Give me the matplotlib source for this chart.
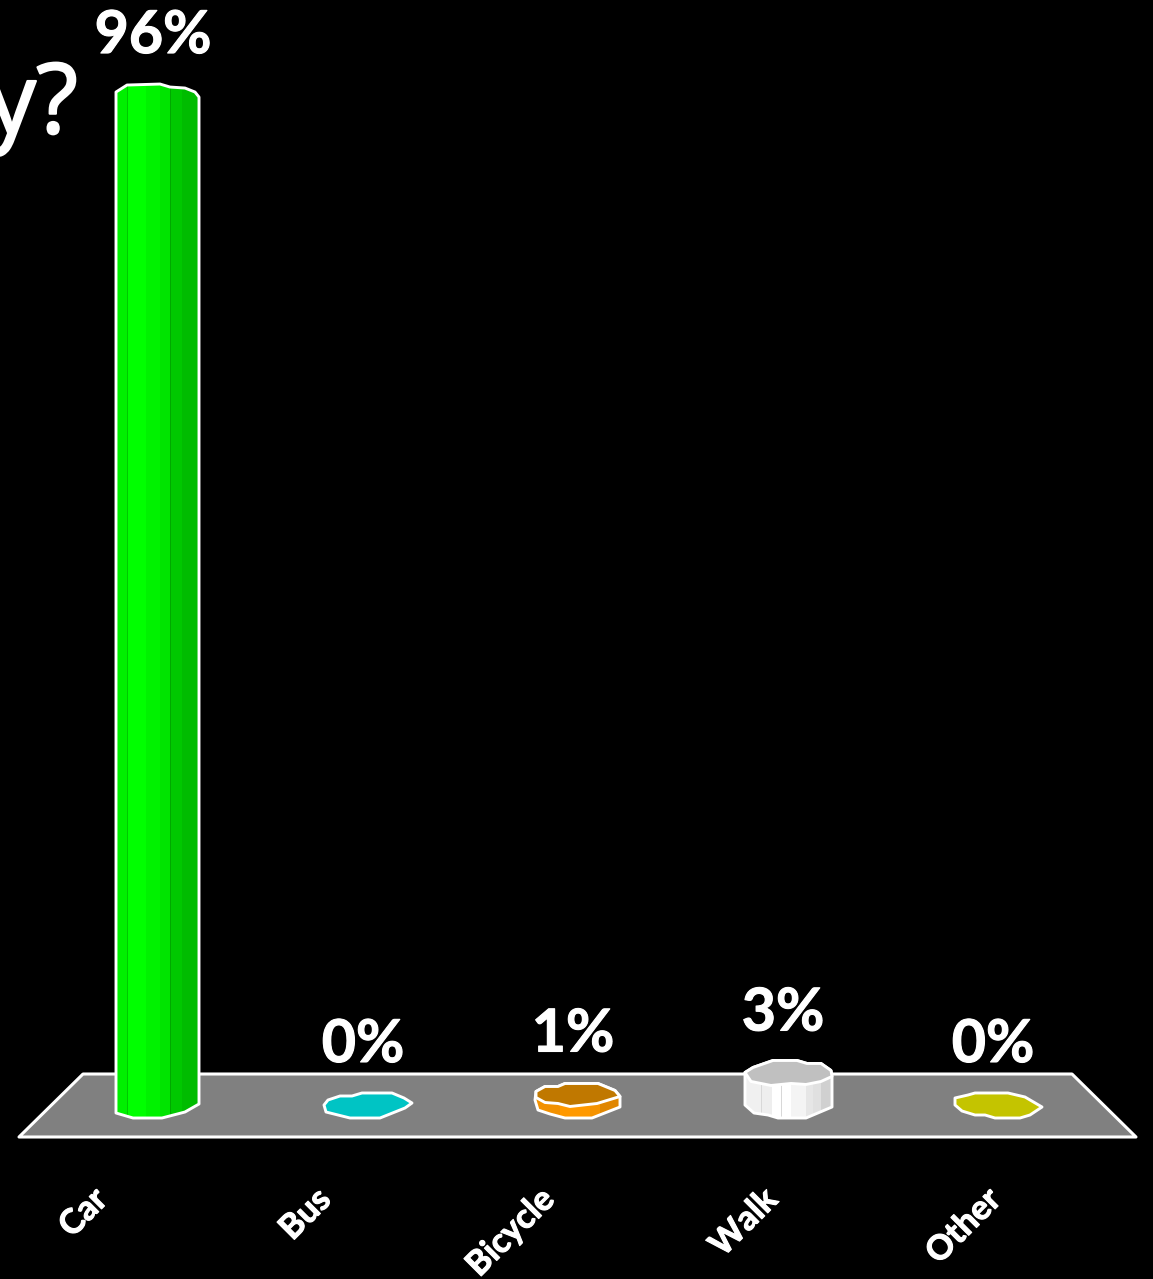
import matplotlib
matplotlib.use('Agg')
import matplotlib.pyplot as plt
import matplotlib.patheffects as pe
from matplotlib.patches import Polygon

categories = ['Car', 'Bus', 'Bicycle', 'Walk', 'Other']
values = [96, 0, 1, 3, 0]
value_labels = ['96%', '0%', '1%', '3%', '0%']

W, H = 1153, 1279
X0, X_STEP = 158, 210     # pixel centre of first bar, spacing
Y0, Y_STEP = 1105, 10.51  # pixel row of 0%, pixels per percent

# outlines of the wobbly "cylinders", pixels relative to bar centre
back_arcs = [
    [(-42, -4), (-31, -11), (2, -12), (12, -9), (27, -8), (37, -4), (41, 1)],
    [(-44, 0), (-40, -5), (-28, -9), (-16, -9), (-6, -12), (24, -12), (36, -7), (44, -2)],
    [(-42, -3), (-33, -8), (-20, -8), (-13, -11), (20, -11), (37, -4), (42, 2)],
    [(-43, -1), (-35, -6), (-15, -13), (9, -13), (19, -10), (33, -10), (43, -3), (44, 3)],
    [(-43, -7), (-30, -10), (-23, -12), (10, -12), (27, -8), (44, 2)],
]
front_arcs = [
    None,
    [(37, 3), (12, 13), (-18, 13), (-30, 10), (-42, 7)],
    [(19, 9), (-8, 12), (-20, 9), (-33, 8), (-42, 3)],
    [(33, 8), (18, 11), (3, 10), (-17, 12), (-37, 8)],
    [(32, 10), (22, 13), (-3, 13), (-13, 10), (-23, 10), (-36, 6), (-43, 0)],
]
base_arcs = [
    [(41, -1), (27, 7), (4, 13), (-25, 13), (-42, 8)],
    None,
    [(42, 2), (14, 13), (-13, 13), (-28, 9), (-40, 5), (-43, -5)],
    [(44, 2), (18, 13), (-10, 13), (-20, 10), (-34, 8), (-43, 0)],
    None,
]
top_colors = ['#00ff00', '#00c4c4', '#c07800', '#c0c0c0', '#c4c400']
strip_edges = [
    [-42, -31, -30, -12, 2, 12, 13, 24, 41],
    None,
    [-43, -18, 12, 22, 42],
    [-43, -27, -26, -16, -7, -6, 3, 18, 25, 33, 44],
    None,
]
strip_colors = [
    ['#00f000', '#00c800', '#00ff00', '#00f200', '#00e400', '#00a800', '#00c800', '#00bc00'],
    None,
    ['#f29100', '#ff9900', '#f59300', '#e08600'],
    ['#f0f0f0', '#d8d8d8', '#eeeeee', '#ffffff', '#d8d8d8', '#ffffff', '#f4f4f4', '#e6e6e6', '#e0e0e0', '#d0d0d0'],
    None,
]

fig = plt.figure(figsize=(W / 100, H / 100), dpi=100, facecolor='black')
ax = fig.add_axes([0, 0, 1, 1])
ax.set_xlim(-X0 / X_STEP, (W - X0) / X_STEP)
ax.set_ylim((Y0 - H) / Y_STEP, Y0 / Y_STEP)
ax.axis('off')


def px(x, y):
    """Pixel position of the picture to data coordinates."""
    return (x - X0) / X_STEP, (Y0 - y) / Y_STEP


def shift(arc, i, value):
    return [(i + dx / X_STEP, value - dy / Y_STEP) for dx, dy in arc]


def heavier(width):
    # Lato bold is a bit lighter than the font in the picture
    return [pe.withStroke(linewidth=width, foreground='white')]


# floor
floor = [px(83, 1074), px(1072, 1074), px(1136, 1137), px(19, 1137)]
ax.add_patch(Polygon(floor, closed=True, fc='#808080', ec='white', lw=2.2, joinstyle='round', zorder=1))

for i, value in enumerate(values):
    if value > 0:
        outline = shift(back_arcs[i], i, value) + shift(base_arcs[i], i, 0)
        body = Polygon(outline, closed=True, fc='none', ec='none', zorder=2)
        ax.add_patch(body)
        edges = strip_edges[i]
        for k, col in enumerate(strip_colors[i]):
            left = i + edges[k] / X_STEP
            width = (edges[k + 1] - edges[k]) / X_STEP
            strip = ax.bar(left, value + 4, width=width, bottom=-2, align='edge', color=col, lw=0, zorder=3)
            strip[0].set_clip_path(body)
        ax.add_patch(Polygon(outline, closed=True, fc='none', ec='white', lw=2.1, joinstyle='round', zorder=5))
    if front_arcs[i] is not None:
        top = shift(back_arcs[i], i, value) + shift(front_arcs[i], i, value)
        ax.add_patch(Polygon(top, closed=True, fc=top_colors[i], ec='white', lw=2.1, joinstyle='round', zorder=6))
    ax.text(i - 5 / X_STEP, value + 43 / Y_STEP, value_labels[i], color='white', fontfamily='Lato',
            fontweight='bold', fontsize=42.5, ha='center', va='baseline', zorder=7,
            path_effects=heavier(0.8))

# category labels sit on the front edge of the floor, which has its own spacing
for i, name in enumerate(categories):
    x, y = px(90.7 + 223.4 * i, 1183)
    ax.text(x, y, name, color='white', fontfamily='Lato', fontweight='bold', fontsize=24.5,
            rotation=45, rotation_mode='anchor', ha='right', va='top', zorder=7,
            path_effects=heavier(0.8))

# tail of the slide title, cut off by the left edge
x, y = px(78, 133)
ax.text(x, y, 'y?', color='white', fontfamily='Open Sans', fontsize=70, ha='right', va='baseline', zorder=7,
        path_effects=heavier(1.5))

fig.savefig('out.png', dpi=100, facecolor='black')
